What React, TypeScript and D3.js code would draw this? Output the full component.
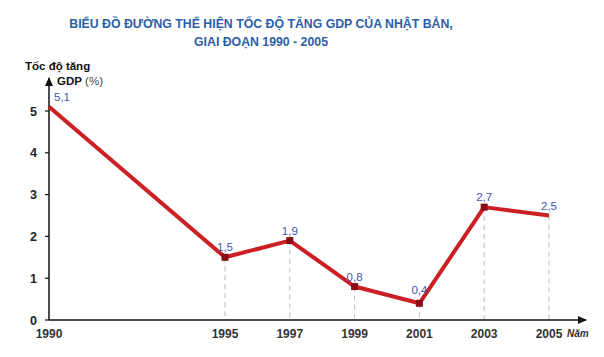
import React from "react";
import * as d3 from "d3";

const years = [1990, 1995, 1997, 1999, 2001, 2003, 2005];
const gdpGrowth = [5.1, 1.5, 1.9, 0.8, 0.4, 2.7, 2.5];
const valueLabels = ["5,1", "1,5", "1,9", "0,8", "0,4", "2,7", "2,5"];
const yTicks = [0, 1, 2, 3, 4, 5];
const titleLines = [
  "BIỂU ĐỒ ĐƯỜNG THỂ HIỆN TỐC ĐỘ TĂNG GDP CỦA NHẬT BẢN,",
  "GIAI ĐOẠN 1990 - 2005",
];

export default function App() {
  const W = 604, H = 357;
  const x = d3.scaleLinear().domain([1990, 1995, 2005]).range([49, 225, 549]);
  const y = d3.scaleLinear().domain([0, 5]).range([320, 111]);
  const pts = years.map((yr, i) => [x(yr), y(gdpGrowth[i])] as [number, number]);
  const line = d3.line()(pts) || "";
  const font = "Arial, 'Liberation Sans', sans-serif";
  return (
    <svg width={W} height={H} style={{ position: "absolute", left: 0, top: 0, background: "#fff" }} fontFamily={font}>
      <defs>
        <marker id="arr" markerWidth="10" markerHeight="10" refX="8" refY="4" orient="auto" markerUnits="userSpaceOnUse">
          <path d="M0,0 L9,4 L0,8 Z" fill="#111" />
        </marker>
      </defs>
      {titleLines.map((t, i) => (
        <text key={i} x={261} y={28 + i * 18} textAnchor="middle" fontSize={12.3} fontWeight="bold" fill="#2c5ea8">{t}</text>
      ))}
      {/* y axis label */}
      <text x={25} y={70} fontSize={11.5} fontWeight="bold" fill="#111">Tốc độ tăng</text>
      <text x={57} y={85} fontSize={11.5} fill="#111"><tspan fontWeight="bold">GDP</tspan><tspan fill="#444"> (%)</tspan></text>
      {/* dashed guides */}
      {pts.slice(1).map((p, i) => (
        <line key={i} x1={p[0]} x2={p[0]} y1={p[1]} y2={y(0)} stroke="#bbb" strokeWidth={1} strokeDasharray="5,4" />
      ))}
      {/* axes */}
      <line x1={49} x2={49} y1={y(0)} y2={78} stroke="#111" strokeWidth={1.5} markerEnd="url(#arr)" />
      <line x1={49} x2={586} y1={y(0)} y2={y(0)} stroke="#111" strokeWidth={1.5} markerEnd="url(#arr)" />
      {yTicks.map((t) => (
        <g key={t}>
          <line x1={45} x2={49} y1={y(t)} y2={y(t)} stroke="#111" strokeWidth={1.2} />
          <text x={37} y={y(t) + 4.5} textAnchor="end" fontSize={12.5} fontWeight="bold" fill="#222">{t}</text>
        </g>
      ))}
      {years.map((yr) => (
        <text key={yr} x={x(yr)} y={338} textAnchor="middle" fontSize={12} fontWeight="bold" fill="#333">{yr}</text>
      ))}
      <text x={567} y={337} fontSize={10} fontStyle="italic" fontWeight="bold" fill="#333">Năm</text>
      {/* data line */}
      <path d={line} fill="none" stroke="#cc1f24" strokeWidth={4} strokeLinejoin="round" />
      {pts.slice(1, 6).map((p, i) => (
        <rect key={i} x={p[0] - 3.5} y={p[1] - 3.5} width={7} height={7} fill="#8a0c12" />
      ))}
      {pts.map((p, i) => (
        <text key={i} x={i === 0 ? p[0] + 5 : p[0]} y={i === 4 ? p[1] - 9 : p[1] - 6} textAnchor={i === 0 ? "start" : "middle"} fontSize={11.5} fill="#4354b0">{valueLabels[i]}</text>
      ))}
    </svg>
  );
}
